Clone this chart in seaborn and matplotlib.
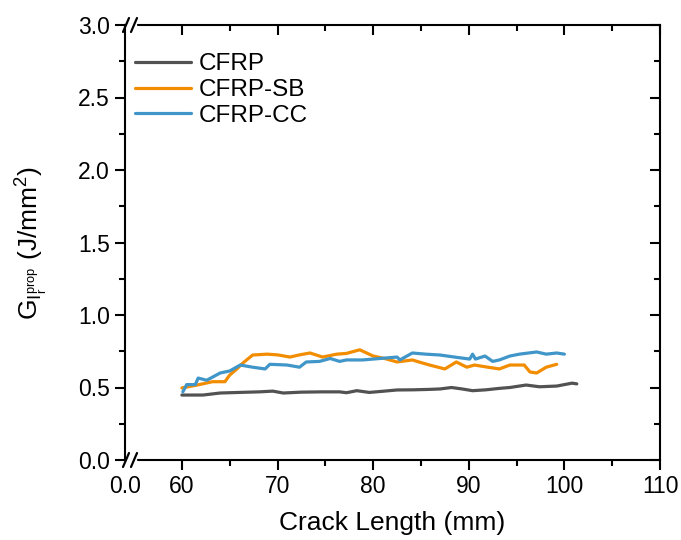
import matplotlib
matplotlib.use("Agg")
import matplotlib.pyplot as plt
import seaborn as sns
import pandas as pd
from matplotlib.lines import Line2D

sns.set_theme(style="ticks")
plt.rcParams['font.family'] = ['Liberation Sans', 'DejaVu Sans']
plt.rcParams['mathtext.fontset'] = 'custom'
plt.rcParams['mathtext.rm'] = 'Liberation Sans'
plt.rcParams['mathtext.it'] = 'Liberation Sans:italic'
plt.rcParams['text.color'] = 'black'
plt.rcParams['axes.labelcolor'] = 'black'
plt.rcParams['xtick.color'] = 'black'
plt.rcParams['ytick.color'] = 'black'

# ---- data ----
cfrp_x = [60.0, 62.2, 64.0, 66.0, 68.1, 69.5, 70.6, 72.5, 74.7, 76.5, 77.2, 78.3, 79.6,
          81.0, 82.5, 84.2, 85.9, 87.0, 88.2, 89.3, 90.4, 91.8, 93.2, 94.3, 96.0, 97.4,
          99.2, 100.8, 101.3]
cfrp_y = [0.448, 0.448, 0.462, 0.466, 0.470, 0.475, 0.462, 0.468, 0.470, 0.470, 0.464,
          0.478, 0.466, 0.474, 0.483, 0.484, 0.487, 0.490, 0.500, 0.490, 0.478, 0.484,
          0.494, 0.500, 0.517, 0.505, 0.510, 0.530, 0.525]

sb_x = [60.0, 61.6, 63.2, 64.5, 65.0, 65.7, 66.4, 67.4, 68.9, 70.0, 71.3, 72.3, 73.4,
        74.7, 76.2, 77.2, 78.6, 80.0, 81.2, 82.5, 84.1, 85.0, 85.9, 87.5, 88.7, 89.8,
        90.6, 92.0, 93.2, 94.3, 95.8, 96.4, 97.1, 98.1, 99.2]
sb_y = [0.497, 0.517, 0.540, 0.540, 0.586, 0.625, 0.670, 0.724, 0.730, 0.725, 0.710,
        0.725, 0.738, 0.710, 0.730, 0.735, 0.760, 0.717, 0.700, 0.676, 0.690, 0.672,
        0.655, 0.628, 0.676, 0.640, 0.655, 0.640, 0.628, 0.655, 0.655, 0.607, 0.600,
        0.640, 0.660]

cc_x = [60.1, 60.5, 61.4, 61.7, 62.6, 64.0, 65.0, 66.1, 67.4, 68.7, 69.2, 71.0, 72.3,
        73.0, 74.4, 75.5, 76.5, 77.2, 78.9, 80.7, 82.5, 82.8, 84.1, 85.5, 87.0, 88.5,
        90.1, 90.4, 90.7, 91.7, 92.5, 93.2, 94.3, 95.3, 97.1, 98.1, 99.2, 100.0]
cc_y = [0.470, 0.520, 0.520, 0.565, 0.550, 0.600, 0.614, 0.655, 0.640, 0.628, 0.660,
        0.655, 0.640, 0.676, 0.680, 0.700, 0.680, 0.690, 0.690, 0.700, 0.710, 0.690,
        0.738, 0.730, 0.724, 0.710, 0.696, 0.730, 0.696, 0.717, 0.680, 0.690, 0.717,
        0.730, 0.745, 0.730, 0.738, 0.730]

series_names = ["CFRP", "CFRP-SB", "CFRP-CC"]
colors = ["#525252", "#F28C00", "#4096C8"]

x_ticks = [54.05, 60, 70, 80, 90, 100, 110]
x_tick_labels = ["0.0", "60", "70", "80", "90", "100", "110"]
y_ticks = [0.0, 0.5, 1.0, 1.5, 2.0, 2.5, 3.0]

df = pd.concat([
    pd.DataFrame({"x": cfrp_x, "y": cfrp_y, "s": series_names[0]}),
    pd.DataFrame({"x": sb_x, "y": sb_y, "s": series_names[1]}),
    pd.DataFrame({"x": cc_x, "y": cc_y, "s": series_names[2]}),
], ignore_index=True)

fig = plt.figure(figsize=(6.81, 5.40), dpi=100)
ax = fig.add_axes([125/681, 80/540, 535/681, 435/540])

sns.lineplot(data=df, x="x", y="y", hue="s", palette=colors, hue_order=series_names,
             linewidth=2.3, ax=ax, legend=False, estimator=None, sort=False)

ax.set_xlim(54.05, 110)
ax.set_ylim(0, 3.0)
ax.set_xticks(x_ticks)
ax.set_xticklabels(x_tick_labels)
ax.set_xticks([65, 75, 85, 95, 105], minor=True)
ax.set_yticks(y_ticks)
ax.set_yticklabels([f"{v:.1f}" for v in y_ticks])
ax.set_yticks([0.25, 0.75, 1.25, 1.75, 2.25, 2.75], minor=True)

for sp in ax.spines.values():
    sp.set_visible(True)
    sp.set_linewidth(1.5)
    sp.set_color("black")

ax.tick_params(axis="both", which="major", labelsize=16.5, width=1.5, length=7,
               color="black", labelcolor="black", direction="out", pad=4)
ax.tick_params(axis="both", which="minor", width=1.5, length=4, color="black",
               direction="out")
ax.tick_params(top=True, right=True, which="both")
for t in ax.xaxis.get_major_ticks() + ax.xaxis.get_minor_ticks():
    t.tick2line.set_marker(3)  # inward at top
for t in ax.yaxis.get_major_ticks() + ax.yaxis.get_minor_ticks():
    t.tick2line.set_marker(0)  # inward at right
ax.xaxis.get_major_ticks()[0].tick1line.set_visible(False)
ax.xaxis.get_major_ticks()[0].tick2line.set_visible(False)

ax.set_xlabel("Crack Length (mm)", fontsize=19, labelpad=9, color="black")
ax.set_ylabel(r"$\mathregular{G_{I_r^{prop}}}$ (J/mm$^\mathregular{2}$)", fontsize=19,
              labelpad=20, color="black")
ax.grid(False)

# axis break marks
kw = dict(transform=ax.transAxes, color="black", lw=1.6, clip_on=False)
dx, dy = 6/535, 14/435
for (x0, y0) in [(0.0, 1.0), (0.0, 0.0)]:
    ax.add_patch(plt.Rectangle((x0 + 1/535, y0 - 1.5/435), 10/535, 3/435,
                               transform=ax.transAxes, color="white", clip_on=False, zorder=5))
    for off in (-2/535, 6/535):
        ax.add_line(Line2D([x0 + off, x0 + off + dx], [y0 - dy/2, y0 + dy/2], zorder=6, **kw))

handles = [Line2D([0], [0], color=c, lw=2.3) for c in colors]
ax.legend(handles, series_names, loc="upper left", frameon=False, fontsize=17.5,
          handlelength=2.3, handletextpad=0.3, labelspacing=0.15,
          borderaxespad=0.3, borderpad=0.6,
          bbox_to_anchor=(-0.022, 0.985))

fig.savefig("out.png", dpi=100)
